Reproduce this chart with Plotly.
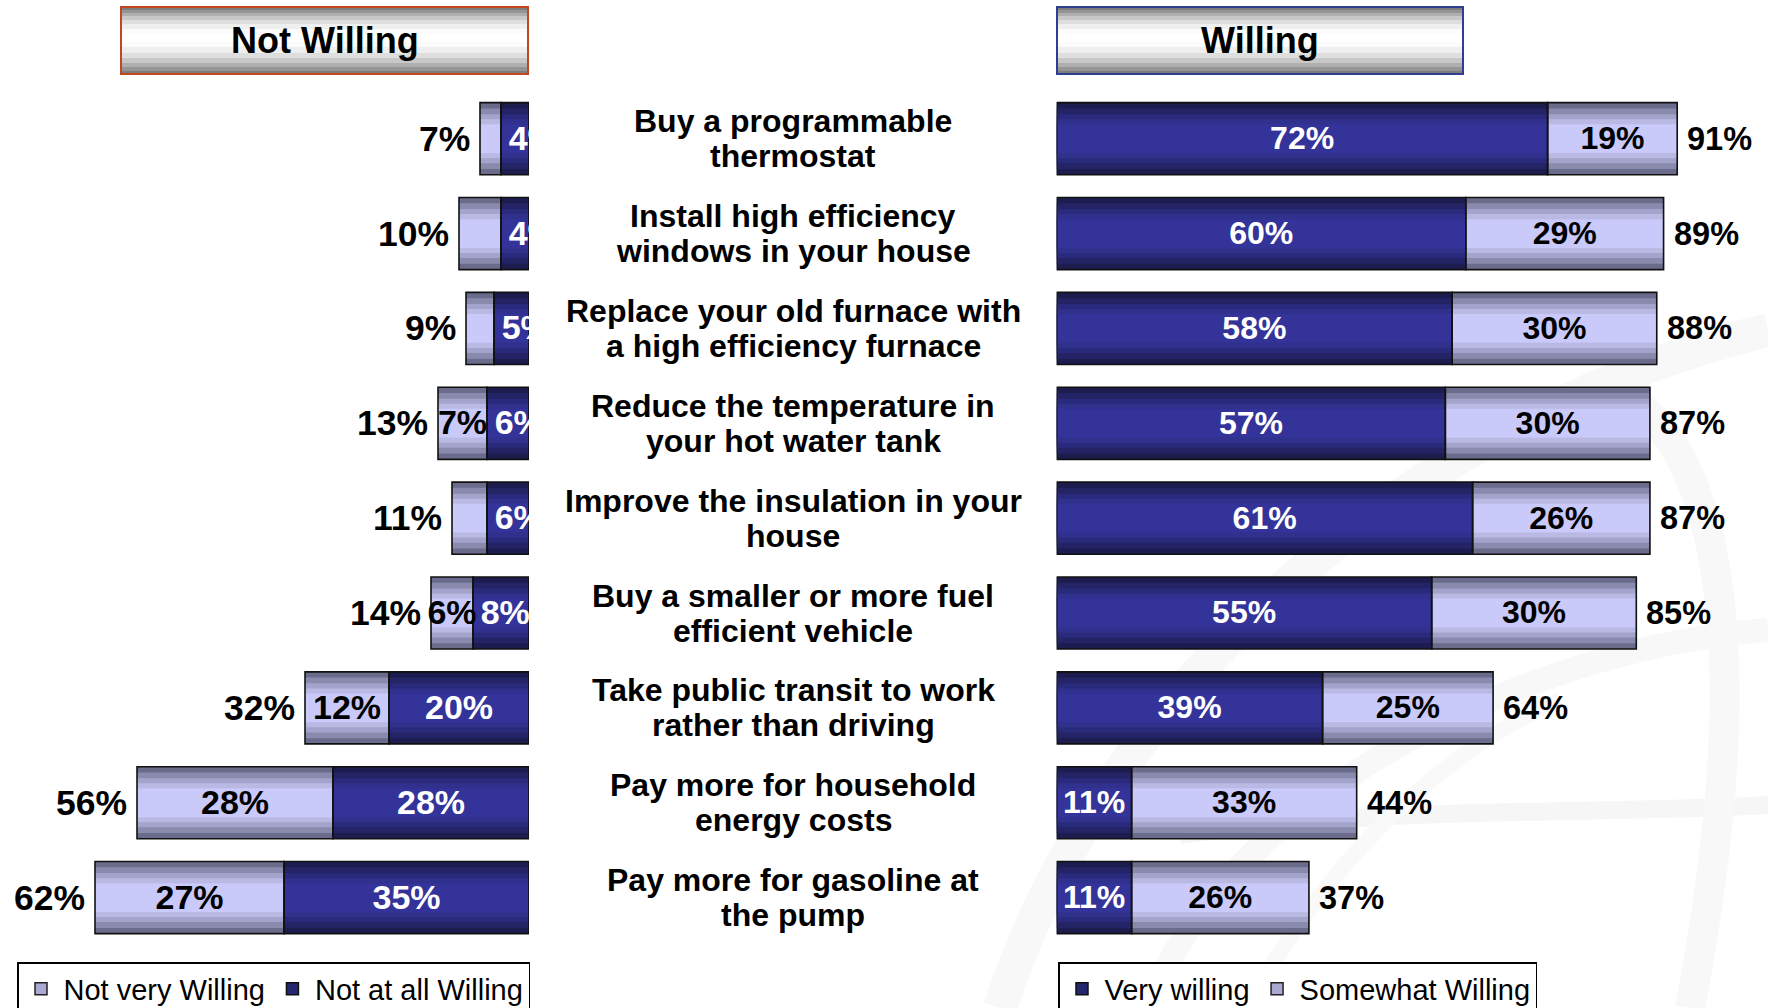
import plotly.graph_objects as go

# ---------------- data ----------------
actions = [
    "Buy a programmable<br>thermostat",
    "Install high efficiency<br>windows in your house",
    "Replace your old furnace with<br>a high efficiency furnace",
    "Reduce the temperature in<br>your hot water tank",
    "Improve the insulation in your<br>house",
    "Buy a smaller or more fuel<br>efficient vehicle",
    "Take public transit to work<br>rather than driving",
    "Pay more for household<br>energy costs",
    "Pay more for gasoline at<br>the pump",
]
not_very_willing = [3, 6, 4, 7, 5, 6, 12, 28, 27]
not_at_all_willing = [4, 4, 5, 6, 6, 8, 20, 28, 35]
not_willing_total = [7, 10, 9, 13, 11, 14, 32, 56, 62]
not_very_label_shown = [False, False, False, True, False, True, True, True, True]

very_willing = [72, 60, 58, 57, 61, 55, 39, 11, 11]
somewhat_willing = [19, 29, 30, 30, 26, 30, 25, 33, 26]
willing_total = [91, 89, 88, 87, 87, 85, 64, 44, 37]

# ---------------- styling ----------------
W, H = 1768, 1008
FONT = "Liberation Sans, Arial, sans-serif"
rows = list(range(len(actions)))
TEXT_DY = 0.026  # small downward nudge of in-bar text (axis units)

DARK_LAYERS = ["#1c1c4f", "#232366", "#2a2a7c", "#30308d", "#333399"]
LIGHT_LAYERS = ["#6b6b8c", "#8a8aae", "#a3a3cb", "#b9b9e4", "#c9c9fa"]
LAYER_FRAC = [1.0, 0.84, 0.68, 0.54, 0.40]
BAR_W = 0.76

fig = go.Figure()


def add_segment(xaxis, lengths, bases, layers):
    for frac, col in zip(LAYER_FRAC, layers):
        fig.add_trace(go.Bar(
            orientation="h", y=rows, x=lengths, base=bases,
            width=BAR_W * frac, xaxis=xaxis, yaxis="y",
            marker=dict(color=col, line=dict(width=0)),
            showlegend=False, hoverinfo="skip"))


def add_outline(xaxis, lengths, bases):
    fig.add_trace(go.Bar(
        orientation="h", y=rows, x=lengths, base=bases,
        width=BAR_W, xaxis=xaxis, yaxis="y",
        marker=dict(color="rgba(0,0,0,0)", line=dict(color="#111111", width=1.6)),
        showlegend=False, hoverinfo="skip"))


zeros = [0] * len(rows)
# Left panel (Not Willing) - reversed axis, dark segment next to centre
add_segment("x", not_at_all_willing, zeros, DARK_LAYERS)
add_segment("x", not_very_willing, not_at_all_willing, LIGHT_LAYERS)
add_outline("x", not_at_all_willing, zeros)
add_outline("x", not_very_willing, not_at_all_willing)

# Right panel (Willing)
add_segment("x2", very_willing, zeros, DARK_LAYERS)
add_segment("x2", somewhat_willing, very_willing, LIGHT_LAYERS)
add_outline("x2", very_willing, zeros)
add_outline("x2", somewhat_willing, very_willing)

ty = [r + TEXT_DY for r in rows]
# Inside labels (clipped at plot edge); narrow segments keep label near the segment start
fig.add_trace(go.Scatter(
    x=[min(v / 2, v - 4.6) for v in not_at_all_willing], y=ty, xaxis="x", yaxis="y",
    mode="text", text=[f"{v}%" for v in not_at_all_willing],
    textfont=dict(family=FONT, size=34, color="white", weight="bold"),
    cliponaxis=True, showlegend=False, hoverinfo="skip"))
fig.add_trace(go.Scatter(
    x=[a + b / 2 for a, b in zip(not_at_all_willing, not_very_willing)], y=ty,
    xaxis="x", yaxis="y", mode="text",
    text=[f"{v}%" if s else "" for v, s in zip(not_very_willing, not_very_label_shown)],
    textfont=dict(family=FONT, size=34, color="black", weight="bold"),
    cliponaxis=True, showlegend=False, hoverinfo="skip"))
fig.add_trace(go.Scatter(
    x=[v / 2 for v in very_willing], y=ty, xaxis="x2", yaxis="y",
    mode="text", text=[f"{v}%" for v in very_willing],
    textfont=dict(family=FONT, size=32, color="white", weight="bold"),
    cliponaxis=True, showlegend=False, hoverinfo="skip"))
fig.add_trace(go.Scatter(
    x=[a + b / 2 for a, b in zip(very_willing, somewhat_willing)], y=ty,
    xaxis="x2", yaxis="y", mode="text",
    text=[f"{v}%" for v in somewhat_willing],
    textfont=dict(family=FONT, size=32, color="black", weight="bold"),
    cliponaxis=True, showlegend=False, hoverinfo="skip"))

# Legend entries
fig.add_trace(go.Bar(orientation="h", x=[None], y=[None], name="Not very Willing",
                     marker=dict(color="#a9a9d4", line=dict(color="#222", width=1.5)),
                     legend="legend", xaxis="x", yaxis="y"))
fig.add_trace(go.Bar(orientation="h", x=[None], y=[None], name="Not at all Willing",
                     marker=dict(color="#26266e", line=dict(color="#111", width=1.5)),
                     legend="legend", xaxis="x", yaxis="y"))
fig.add_trace(go.Bar(orientation="h", x=[None], y=[None], name="Very willing",
                     marker=dict(color="#26266e", line=dict(color="#111", width=1.5)),
                     legend="legend2", xaxis="x2", yaxis="y"))
fig.add_trace(go.Bar(orientation="h", x=[None], y=[None], name="Somewhat Willing",
                     marker=dict(color="#a9a9d4", line=dict(color="#222", width=1.5)),
                     legend="legend2", xaxis="x2", yaxis="y"))

annotations = []
# Totals
for r, t in zip(rows, not_willing_total):
    annotations.append(dict(x=t, y=r, xref="x", yref="y", text=f"{t}%", showarrow=False,
                            xanchor="right", xshift=-8,
                            font=dict(family=FONT, size=35.5, color="black", weight="bold")))
for r, t in zip(rows, willing_total):
    annotations.append(dict(x=t, y=r, xref="x2", yref="y", text=f"{t}%", showarrow=False,
                            xanchor="left", xshift=8,
                            font=dict(family=FONT, size=32.5, color="black", weight="bold")))
# Category labels (two lines each)
for r, a in zip(rows, actions):
    lines = a.split("<br>")
    n = len(lines)
    for i, ln in enumerate(lines):
        annotations.append(dict(x=793 / W, y=r, xref="paper", yref="y", text=ln,
                                showarrow=False, xanchor="center", yanchor="middle",
                                yshift=(n - 1) / 2 * 35 - i * 35,
                                font=dict(family=FONT, size=32, color="black", weight="bold")))

shapes = []
# faint background swirl (watermark)
swirls = [
    ("M1000,1008 C1100,700 1400,420 1768,330", 34, "#f8f8f8"),
    ("M1150,1008 C1210,820 1500,650 1768,630", 24, "#f8f8f8"),
    ("M1180,835 C1400,805 1600,815 1768,805", 18, "#f6f6f6"),
    ("M1600,380 C1720,430 1760,640 1690,1008", 30, "#f8f8f8"),
    ("M1250,1008 C1300,900 1420,760 1560,700", 16, "#f9f9f9"),
]


def to_paper(path):
    out = []
    for tok in path.split(" "):
        cmd = ""
        if tok[0].isalpha():
            cmd, tok = tok[0], tok[1:]
        px, py = tok.split(",")
        out.append(f"{cmd}{float(px) / W:.5f},{1 - float(py) / H:.5f}")
    return " ".join(out)


for p, wdt, col in swirls:
    shapes.append(dict(type="path", xref="paper", yref="paper", path=to_paper(p),
                       line=dict(color=col, width=wdt), layer="below"))

# Header boxes
header_layers = [(0, 0, "#7d7d7d"), (3, 3, "#959595"), (6, 7, "#afafaf"), (9, 11, "#c8c8c8"),
                 (13, 16, "#dedede"), (17, 21, "#efefef"), (22, 27, "#fbfbfb"), (26, 32, "#ffffff")]
headers = [("Not Willing", 121, 528, "#c2461e"), ("Willing", 1057, 1463, "#2f3f8f")]
top, bot = 7, 74
for title, x0, x1, border in headers:
    for dt, db, col in header_layers:
        shapes.append(dict(type="rect", xref="paper", yref="paper",
                           x0=x0 / W, x1=x1 / W, y0=1 - (bot - db) / H, y1=1 - (top + dt) / H,
                           fillcolor=col, line=dict(width=0), layer="below"))
    shapes.append(dict(type="rect", xref="paper", yref="paper",
                       x0=x0 / W, x1=x1 / W, y0=1 - bot / H, y1=1 - top / H,
                       fillcolor="rgba(0,0,0,0)", line=dict(color=border, width=2), layer="below"))
    annotations.append(dict(x=(x0 + x1) / 2 / W, y=1 - 41 / H, xref="paper", yref="paper",
                            text=title, showarrow=False, xanchor="center", yanchor="middle",
                            font=dict(family=FONT, size=36, color="black", weight="bold")))

# axes: left bars end at x=529px, 7.0 px per %; right bars start at 1056.6px, 6.82 px per %
left_end = 529.0
right_start = 1056.6
legend_style = dict(yanchor="top", xanchor="left", orientation="h",
                    bordercolor="black", borderwidth=1.5, bgcolor="white", itemwidth=35,
                    font=dict(family=FONT, size=29, color="black"), traceorder="normal")
fig.update_layout(
    width=W, height=H,
    margin=dict(l=0, r=0, t=0, b=0, autoexpand=False),
    paper_bgcolor="white", plot_bgcolor="rgba(0,0,0,0)",
    barmode="overlay",
    xaxis=dict(domain=[0, left_end / W], range=[left_end / 7.0, 0], visible=False,
               fixedrange=True, anchor="y"),
    xaxis2=dict(domain=[right_start / W, 1], range=[0, (W - right_start) / 6.82], visible=False,
                fixedrange=True, anchor="y"),
    yaxis=dict(domain=[0, 1], range=[8 + (H - 897.6) / 94.86, -138.7 / 94.86], visible=False,
               fixedrange=True),
    legend=dict(x=17 / W, y=1 - 962 / H, **legend_style),
    legend2=dict(x=1058 / W, y=1 - 962 / H, **legend_style),
    annotations=annotations,
    shapes=shapes,
    showlegend=True,
)

fig.write_html("out.html", config={"displayModeBar": False},
               post_script="document.body.style.margin='0px';document.body.style.overflow='hidden';")
